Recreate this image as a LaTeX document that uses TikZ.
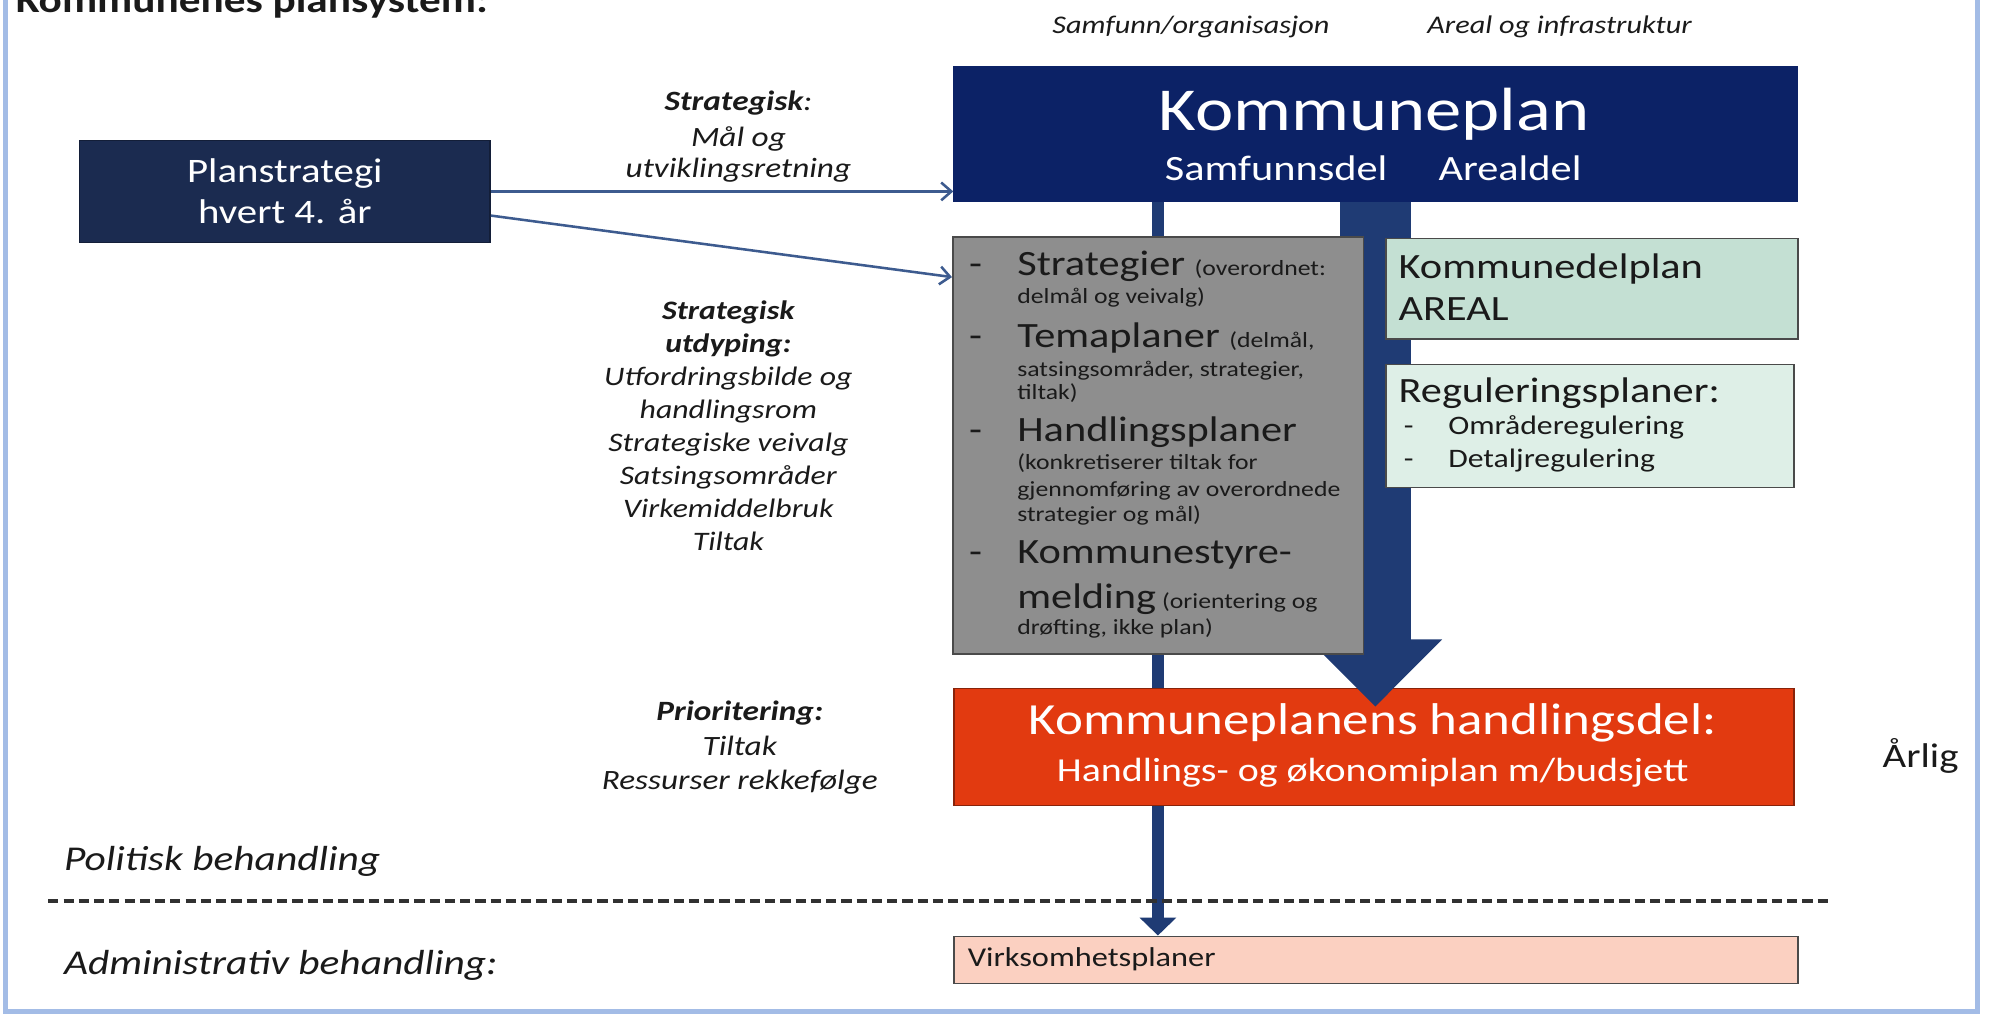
\documentclass[tikz,border=0pt]{standalone}
\usepackage{fontspec}
\setmainfont{Carlito}[FakeStretch=1.19]
\usetikzlibrary{arrows.meta}
\definecolor{kpblue}{HTML}{0C2266}
\definecolor{psblue}{HTML}{1B2B50}
\definecolor{barblue}{HTML}{1F3B74}
\definecolor{arrblue}{HTML}{3D5B8F}
\definecolor{greyfill}{HTML}{8E8E8E}
\definecolor{greyline}{HTML}{4A4A4A}
\definecolor{greenA}{HTML}{C4E0D3}
\definecolor{greenB}{HTML}{DEEFE7}
\definecolor{orangefill}{HTML}{E23A10}
\definecolor{salmon}{HTML}{FBD0C1}
\definecolor{framecol}{HTML}{A3BCE6}
\definecolor{txt}{HTML}{1A1A1A}
\newcommand\fsz[2]{\fontsize{#1}{#2}\selectfont}
\begin{document}
\begin{tikzpicture}[x=0.5pt,y=-0.5pt,
  box/.style={draw=greyline, line width=0.6pt, inner sep=0pt, anchor=north west},
  lab/.style={inner sep=0pt, anchor=base, text=txt},
  labw/.style={inner sep=0pt, anchor=base west, text=txt},
  big/.style={font=\fsz{14}{16}},
  conn/.style={arrblue, line width=1pt, -{Straight Barb[length=4pt,width=7pt]}},
  thinbar/.style={barblue, line width=5pt, -{Triangle[width=14pt,length=7pt]}},
  thickbar/.style={barblue, line width=28pt, -{Triangle[width=51pt,length=26.5pt]}}]
\useasboundingbox (0,0) rectangle (1568,800);
\clip (0,0) rectangle (1568,800);
\fill[white] (0,0) rectangle (1568,800);
% frame
\draw[framecol, line width=2pt] (4,-10) rectangle (1556,796);
% title
\node[labw, font=\bfseries\fsz{14.3}{16}] (title) at (12,10) {Kommunenes plansystem:};
% column labels
\node[lab, font=\itshape\fsz{10}{12}] (lsamf) at (937,26) {Samfunn/organisasjon};
\node[lab, font=\itshape\fsz{10}{12}] (lareal) at (1227,26) {Areal og infrastruktur};
% boxes
\node[box, fill=psblue, draw=psblue!70!black, minimum width=161.5pt, minimum height=40pt] (ps) at (62,110) {};
\node[box, fill=kpblue, draw=kpblue, minimum width=331.5pt, minimum height=53pt] (kp) at (750,52) {};
\node[box, fill=salmon, draw=greyline, minimum width=332pt, minimum height=18.5pt] (vp) at (750,736) {};
\draw[thinbar] ([xshift=80.5pt]kp.south west) -- ([xshift=80.5pt]vp.north west);
\node[box, fill=orangefill, draw=orangefill!60!black, minimum width=330.5pt, minimum height=46pt] (hd) at (750,541) {};
\draw[thickbar] ([xshift=166pt]kp.south west) -- ([xshift=166pt,yshift=-7.5pt]hd.north west);
\node[box, fill=greyfill, minimum width=161.5pt, minimum height=164pt] (gb) at (749,186) {};
\node[box, fill=greenA, draw=greyline, minimum width=162pt, minimum height=39.5pt] (g1) at (1090,187) {};
\node[box, fill=greenB, draw=greyline, minimum width=160.5pt, minimum height=48.5pt] (g2) at (1090,286) {};
% connectors
\draw[conn] (ps.east) -- (ps.east -| kp.west);
\draw[conn] ([yshift=-9.5pt]ps.east) -- ([yshift=-16pt]gb.north west);
% dashed separator
\coordinate (d1) at (38,709);
\coordinate (d2) at (1440,709);
\draw[txt!90, line width=1.4pt, dash pattern=on 4pt off 2pt] (d1) -- (d2);
% Planstrategi text
\node[text=white, align=center, inner sep=0pt, font=\fsz{13.5}{16}] (pst) at (ps.center) {Planstrategi\\hvert 4. år};
% Kommuneplan text
\node[lab, text=white, font=\fsz{24}{28}] (kpt) at (1081,103) {Kommuneplan};
\node[lab, text=white, font=\fsz{14}{16}] (kps) at (1004,142) {Samfunnsdel};
\node[lab, text=white, font=\fsz{14}{16}] (kpa) at (1188,142) {Arealdel};
% Strategisk (top)
\node[lab, font=\itshape\fsz{11}{13}] (s1) at (581,87) {\bfseries Strategisk\mdseries:};
\node[lab, font=\itshape\fsz{11}{13}] (s2) at (581,115) {Mål og};
\node[lab, font=\itshape\fsz{11}{13}] (s3) at (581,140) {utviklingsretning};
% Strategisk utdyping
\node[lab, font=\bfseries\itshape\fsz{10.5}{13}] (u1) at (573,251) {Strategisk};
\node[lab, font=\bfseries\itshape\fsz{10.5}{13}] (u2) at (573,277) {utdyping:};
\node[lab, font=\itshape\fsz{10.5}{13}] (u3) at (573,303) {Utfordringsbilde og};
\node[lab, font=\itshape\fsz{10.5}{13}] (u4) at (573,329) {handlingsrom};
\node[lab, font=\itshape\fsz{10.5}{13}] (u5) at (573,355) {Strategiske veivalg};
\node[lab, font=\itshape\fsz{10.5}{13}] (u6) at (573,381) {Satsingsområder};
\node[lab, font=\itshape\fsz{10.5}{13}] (u7) at (573,407) {Virkemiddelbruk};
\node[lab, font=\itshape\fsz{10.5}{13}] (u8) at (573,433) {Tiltak};
% Prioritering
\node[lab, font=\bfseries\itshape\fsz{11}{13}] (p1) at (582,567) {Prioritering:};
\node[lab, font=\itshape\fsz{11}{13}] (p2) at (582,594) {Tiltak};
\node[lab, font=\itshape\fsz{11}{13}] (p3) at (582,621) {Ressurser rekkefølge};
% grey box contents
\node[labw, big] (b1) at (762,217) {-};
\node[labw, big] (b2) at (762,273) {-};
\node[labw, big] (b3) at (762,347) {-};
\node[labw, big] (b4) at (762,443) {-};
\node[labw] (t1) at (800,217) {\fsz{14}{16}Strategier \fsz{8.5}{10}(overordnet:};
\node[labw, font=\fsz{8.5}{10}] (t2) at (800,239) {delmål og veivalg)};
\node[labw] (t3) at (800,273) {\fsz{14}{16}Temaplaner \fsz{8.5}{10}(delmål,};
\node[labw, font=\fsz{8.5}{10}] (t4) at (800,296) {satsingsområder, strategier,};
\node[labw, font=\fsz{8.5}{10}] (t5) at (800,314) {tiltak)};
\node[labw, big] (t6) at (800,347) {Handlingsplaner};
\node[labw, font=\fsz{8.5}{10}] (t7) at (800,369) {(konkretiserer tiltak for};
\node[labw, font=\fsz{8.5}{10}] (t8) at (800,391) {gjennomføring av overordnede};
\node[labw, font=\fsz{8.5}{10}] (t9) at (800,410) {strategier og mål)};
\node[labw, big] (t10) at (800,443) {Kommunestyre-};
\node[labw] (t11) at (800,479) {\fsz{14}{16}melding\,\fsz{8.5}{10}(orientering og};
\node[labw, font=\fsz{8.5}{10}] (t12) at (800,499) {drøfting, ikke plan)};
% green boxes contents
\node[labw, big] (k1) at (1100,219) {Kommunedelplan};
\node[labw, big] (k2) at (1100,252) {AREAL};
\node[labw, big] (r1) at (1100,317) {Reguleringsplaner:};
\node[labw, font=\fsz{10.5}{12}] (r2b) at (1104,342) {-};
\node[labw, font=\fsz{10.5}{12}] (r2) at (1139,342) {Områderegulering};
\node[labw, font=\fsz{10.5}{12}] (r3b) at (1104,368) {-};
\node[labw, font=\fsz{10.5}{12}] (r3) at (1139,368) {Detaljregulering};
% handlingsdel text
\node[lab, text=white, font=\fsz{17.5}{20}] (h1) at (1080,578) {Kommuneplanens handlingsdel:};
\node[lab, text=white, font=\fsz{13.2}{16}] (h2) at (1080,615) {Handlings- og økonomiplan m/budsjett};
% virksomhetsplaner
\node[labw, font=\fsz{10.7}{12}] (vpt) at (761,760) {Virksomhetsplaner};
% side labels
\node[labw, font=\itshape\fsz{13.7}{16}] (pol) at (50,685) {Politisk behandling};
\node[labw, font=\itshape\fsz{13.7}{16}] (adm) at (50,767) {Administrativ behandling:};
\node[lab, font=\fsz{13.5}{16}] (arl) at (1511,604) {Årlig};
\end{tikzpicture}
\end{document}
